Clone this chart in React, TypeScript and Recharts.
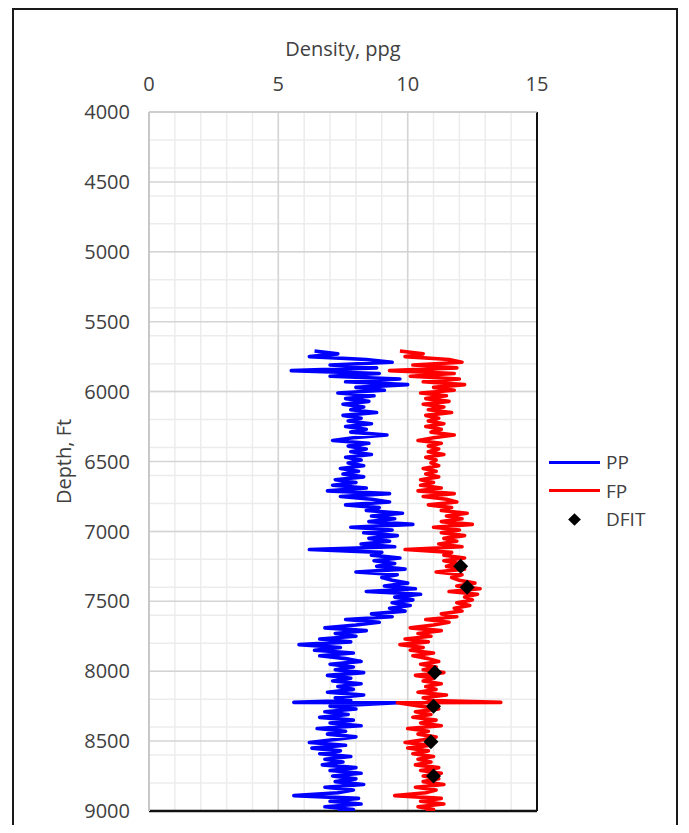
import React from 'react';
import { LineChart, Line, XAxis, YAxis, CartesianGrid, ReferenceLine } from 'recharts';

const DEPTH = [
  5710, 5730, 5750, 5770, 5790, 5810, 5830, 5850, 5870, 5890,
  5910, 5930, 5950, 5970, 5990, 6010, 6030, 6050, 6070, 6090,
  6110, 6130, 6150, 6170, 6190, 6210, 6230, 6250, 6270, 6290,
  6310, 6330, 6350, 6370, 6390, 6410, 6430, 6450, 6470, 6490,
  6510, 6530, 6550, 6570, 6590, 6610, 6630, 6650, 6670, 6690,
  6710, 6730, 6750, 6770, 6790, 6810, 6830, 6850, 6870, 6890,
  6910, 6930, 6950, 6970, 6990, 7010, 7030, 7050, 7070, 7090,
  7110, 7130, 7150, 7170, 7190, 7210, 7230, 7250, 7270, 7290,
  7310, 7330, 7350, 7370, 7390, 7410, 7430, 7450, 7470, 7490,
  7510, 7530, 7550, 7570, 7590, 7610, 7630, 7650, 7670, 7690,
  7710, 7730, 7750, 7770, 7790, 7810, 7830, 7850, 7870, 7890,
  7910, 7930, 7950, 7970, 7990, 8010, 8030, 8050, 8070, 8090,
  8110, 8130, 8150, 8170, 8190, 8210, 8223, 8226, 8250, 8270,
  8290, 8310, 8330, 8350, 8370, 8390, 8410, 8430, 8450, 8470,
  8490, 8510, 8530, 8550, 8570, 8590, 8610, 8630, 8650, 8670,
  8690, 8710, 8730, 8750, 8770, 8790, 8810, 8830, 8850, 8870,
  8890, 8910, 8930, 8950, 8970, 8990, 9000,
];

const PP = [
  6.4, 7.3, 6.2, 8.4, 9.4, 7.0, 8.8, 5.5, 8.9, 7.0,
  9.7, 7.6, 10.0, 8.0, 9.1, 7.3, 8.7, 7.6, 8.5, 7.5,
  8.3, 7.8, 8.8, 7.5, 8.2, 7.7, 8.6, 7.6, 8.4, 7.8,
  9.2, 7.9, 7.1, 8.5, 7.7, 8.4, 7.8, 8.6, 7.6, 8.2,
  7.7, 8.3, 7.4, 8.1, 7.5, 8.3, 7.2, 8.0, 7.1, 8.4,
  6.9, 9.3, 7.4, 8.6, 9.3, 7.6, 8.9, 8.4, 9.8, 8.6,
  9.5, 8.5, 10.2, 7.8, 9.4, 8.3, 9.6, 8.5, 9.3, 8.2,
  9.5, 6.2, 9.0, 8.6, 9.7, 8.7, 9.5, 8.8, 9.9, 8.0,
  9.6, 9.0, 9.4, 10.0, 9.1, 10.3, 8.4, 10.5, 9.5, 10.2,
  9.4, 10.1, 9.3, 9.9, 8.6, 9.4, 7.6, 8.9, 8.0, 6.8,
  8.4, 7.2, 8.0, 6.6, 7.8, 5.8, 7.4, 6.4, 7.9, 6.6,
  7.6, 8.2, 7.0, 7.9, 7.2, 8.3, 6.9, 7.8, 7.1, 8.2,
  7.3, 7.9, 6.9, 8.3, 7.2, 7.8, 5.6, 9.6, 7.0, 8.0,
  6.8, 7.7, 6.6, 7.9, 7.0, 8.2, 6.5, 7.6, 6.9, 8.0,
  7.1, 6.2, 7.6, 6.3, 7.4, 6.6, 7.8, 6.8, 7.5, 6.7,
  8.0, 7.0, 8.2, 7.1, 8.0, 7.2, 8.3, 6.8, 7.9, 7.3,
  5.6, 8.1, 7.0, 8.2, 6.8, 7.9, 7.3,
];

const FP = [
  9.7, 10.6, 9.9, 11.6, 12.1, 10.2, 11.9, 9.3, 11.8, 10.1,
  12.0, 10.6, 12.2, 11.0, 11.8, 10.5, 11.5, 10.7, 11.6, 10.6,
  11.4, 10.8, 11.7, 10.7, 11.2, 10.8, 11.4, 10.7, 11.3, 10.9,
  11.8, 11.0, 10.4, 11.3, 10.8, 11.2, 10.8, 11.4, 10.7, 11.1,
  10.9, 11.2, 10.6, 11.1, 10.7, 11.2, 10.5, 11.0, 10.5, 11.3,
  10.4, 11.8, 10.6, 11.5, 11.9, 10.8, 11.7, 11.3, 12.3, 11.5,
  12.1, 11.3, 12.5, 11.0, 12.0, 11.3, 12.2, 11.4, 11.9, 11.2,
  12.1, 9.9, 11.7, 11.4, 12.2, 11.4, 12.0, 11.5, 12.2, 11.1,
  12.1, 11.7, 12.0, 12.6, 11.9, 12.8, 11.6, 12.7, 12.2, 12.5,
  11.9, 12.4, 11.8, 12.1, 11.3, 11.9, 10.7, 11.6, 11.0, 10.1,
  11.3, 10.4, 10.9, 9.9, 10.8, 9.7, 10.6, 10.1, 11.0, 10.2,
  10.8, 11.2, 10.5, 11.1, 10.6, 11.4, 10.3, 11.0, 10.6, 11.3,
  10.7, 11.1, 10.4, 11.5, 10.6, 11.0, 13.6, 9.6, 10.5, 11.2,
  10.3, 10.9, 10.2, 11.1, 10.5, 11.3, 10.0, 10.8, 10.4, 11.1,
  10.6, 9.9, 10.9, 10.0, 10.8, 10.2, 11.0, 10.4, 10.9, 10.3,
  11.2, 10.5, 11.3, 10.6, 11.2, 10.6, 11.4, 10.3, 11.1, 10.7,
  9.5, 11.3, 10.5, 11.4, 10.4, 11.0, 10.7,
];

const DFIT_DEPTH = [7250, 7400, 8010, 8250, 8505, 8750];
const DFIT = [12.05, 12.3, 11.05, 11.0, 10.9, 11.0];

const X_TICKS = [0, 5, 10, 15];
const Y_TICKS = [4000, 4500, 5000, 5500, 6000, 6500, 7000, 7500, 8000, 8500, 9000];

const ppData = DEPTH.map((d, i) => ({ depth: d, v: PP[i] }));
const fpData = DEPTH.map((d, i) => ({ depth: d, v: FP[i] }));
const dfitData = DFIT_DEPTH.map((d, i) => ({ depth: d, v: DFIT[i] }));

const minorX: number[] = [];
for (let i = 0; i <= 15; i++) minorX.push(i);
const minorY: number[] = [];
for (let d = 4000; d <= 9000; d += 100) minorY.push(d);

const FONT = '"Open Sans", sans-serif';

const Diamond = (props: any) => {
  const { cx, cy, index } = props;
  if (cx == null || cy == null) return <g key={'d' + index} />;
  const r = 7.5;
  return (
    <path
      key={'d' + index}
      d={`M${cx},${cy - r}L${cx + r},${cy}L${cx},${cy + r}L${cx - r},${cy}Z`}
      fill="#000"
    />
  );
};

const XTitle = (props: any) => {
  const vb = props.viewBox || {};
  return (
    <text x={vb.x + vb.width / 2} y={vb.y + 48} textAnchor="middle" fontSize={20} fill="#404040" fontFamily={FONT}>
      Density, ppg
    </text>
  );
};

const YTitle = (props: any) => {
  const vb = props.viewBox || {};
  const x = vb.x + 55;
  const y = vb.y + vb.height / 2;
  return (
    <text x={x} y={y} transform={`rotate(-90, ${x}, ${y})`} textAnchor="middle" dominantBaseline="central" fontSize={20} fill="#404040" fontFamily={FONT}>
      Depth, Ft
    </text>
  );
};

export default function App() {
  return (
    <div style={{ position: 'relative', width: 681, height: 817, overflow: 'hidden', fontFamily: FONT }}>
      <div style={{ position: 'absolute', left: 4, top: 0, width: 666, height: 840, border: '2px solid #1a1a1a', boxSizing: 'border-box' }} />
      <LineChart width={681} height={817} layout="vertical" margin={{ top: 0, right: 152, bottom: 14, left: 0 }}>
        <CartesianGrid stroke="#ececec" strokeWidth={1.5} verticalValues={minorX} horizontalValues={minorY} />
        <CartesianGrid stroke="#d4d4d4" strokeWidth={1.5} verticalValues={X_TICKS} horizontalValues={Y_TICKS} />
        <XAxis
          type="number"
          orientation="top"
          domain={[0, 15]}
          ticks={X_TICKS}
          allowDataOverflow
          height={104}
          tickLine={false}
          tickSize={0}
          tickMargin={21}
          axisLine={{ stroke: '#c8c8c8', strokeWidth: 1.5 }}
          tick={{ fontSize: 20, fill: '#404040', fontFamily: FONT }}
          label={<XTitle />}
        />
        <YAxis
          type="number"
          dataKey="depth"
          domain={[4000, 9000]}
          ticks={Y_TICKS}
          allowDataOverflow
          width={141}
          tickLine={false}
          tickSize={0}
          tickMargin={19}
          axisLine={{ stroke: '#c8c8c8', strokeWidth: 2 }}
          tick={{ fontSize: 20, fill: '#404040', fontFamily: FONT }}
          label={<YTitle />}
        />
        <ReferenceLine y={9000} stroke="#111" strokeWidth={2.5} />
        <ReferenceLine x={15} stroke="#111" strokeWidth={2} />
        <Line data={ppData} dataKey="v" stroke="#0000ff" strokeWidth={3.6} strokeLinejoin="round" dot={false} isAnimationActive={false} />
        <Line data={fpData} dataKey="v" stroke="#ff0000" strokeWidth={3.6} strokeLinejoin="round" dot={false} isAnimationActive={false} />
        <Line data={dfitData} dataKey="v" stroke="transparent" strokeWidth={0} dot={<Diamond />} activeDot={false} isAnimationActive={false} />
      </LineChart>
      <div style={{ position: 'absolute', left: 541, top: 440, fontSize: 19, color: '#404040', fontFamily: FONT, lineHeight: '28.5px' }}>
        <div style={{ display: 'flex', alignItems: 'center', height: 28.5 }}>
          <div style={{ width: 51, height: 3, background: '#0000ff', marginRight: 6 }} />
          <span>PP</span>
        </div>
        <div style={{ display: 'flex', alignItems: 'center', height: 28.5 }}>
          <div style={{ width: 51, height: 3, background: '#ff0000', marginRight: 6 }} />
          <span>FP</span>
        </div>
        <div style={{ display: 'flex', alignItems: 'center', height: 28.5 }}>
          <div style={{ width: 51, height: 12, marginRight: 6, display: 'flex', justifyContent: 'center', alignItems: 'center' }}>
            <div style={{ width: 9, height: 9, background: '#000', transform: 'rotate(45deg)' }} />
          </div>
          <span>DFIT</span>
        </div>
      </div>
    </div>
  );
}
